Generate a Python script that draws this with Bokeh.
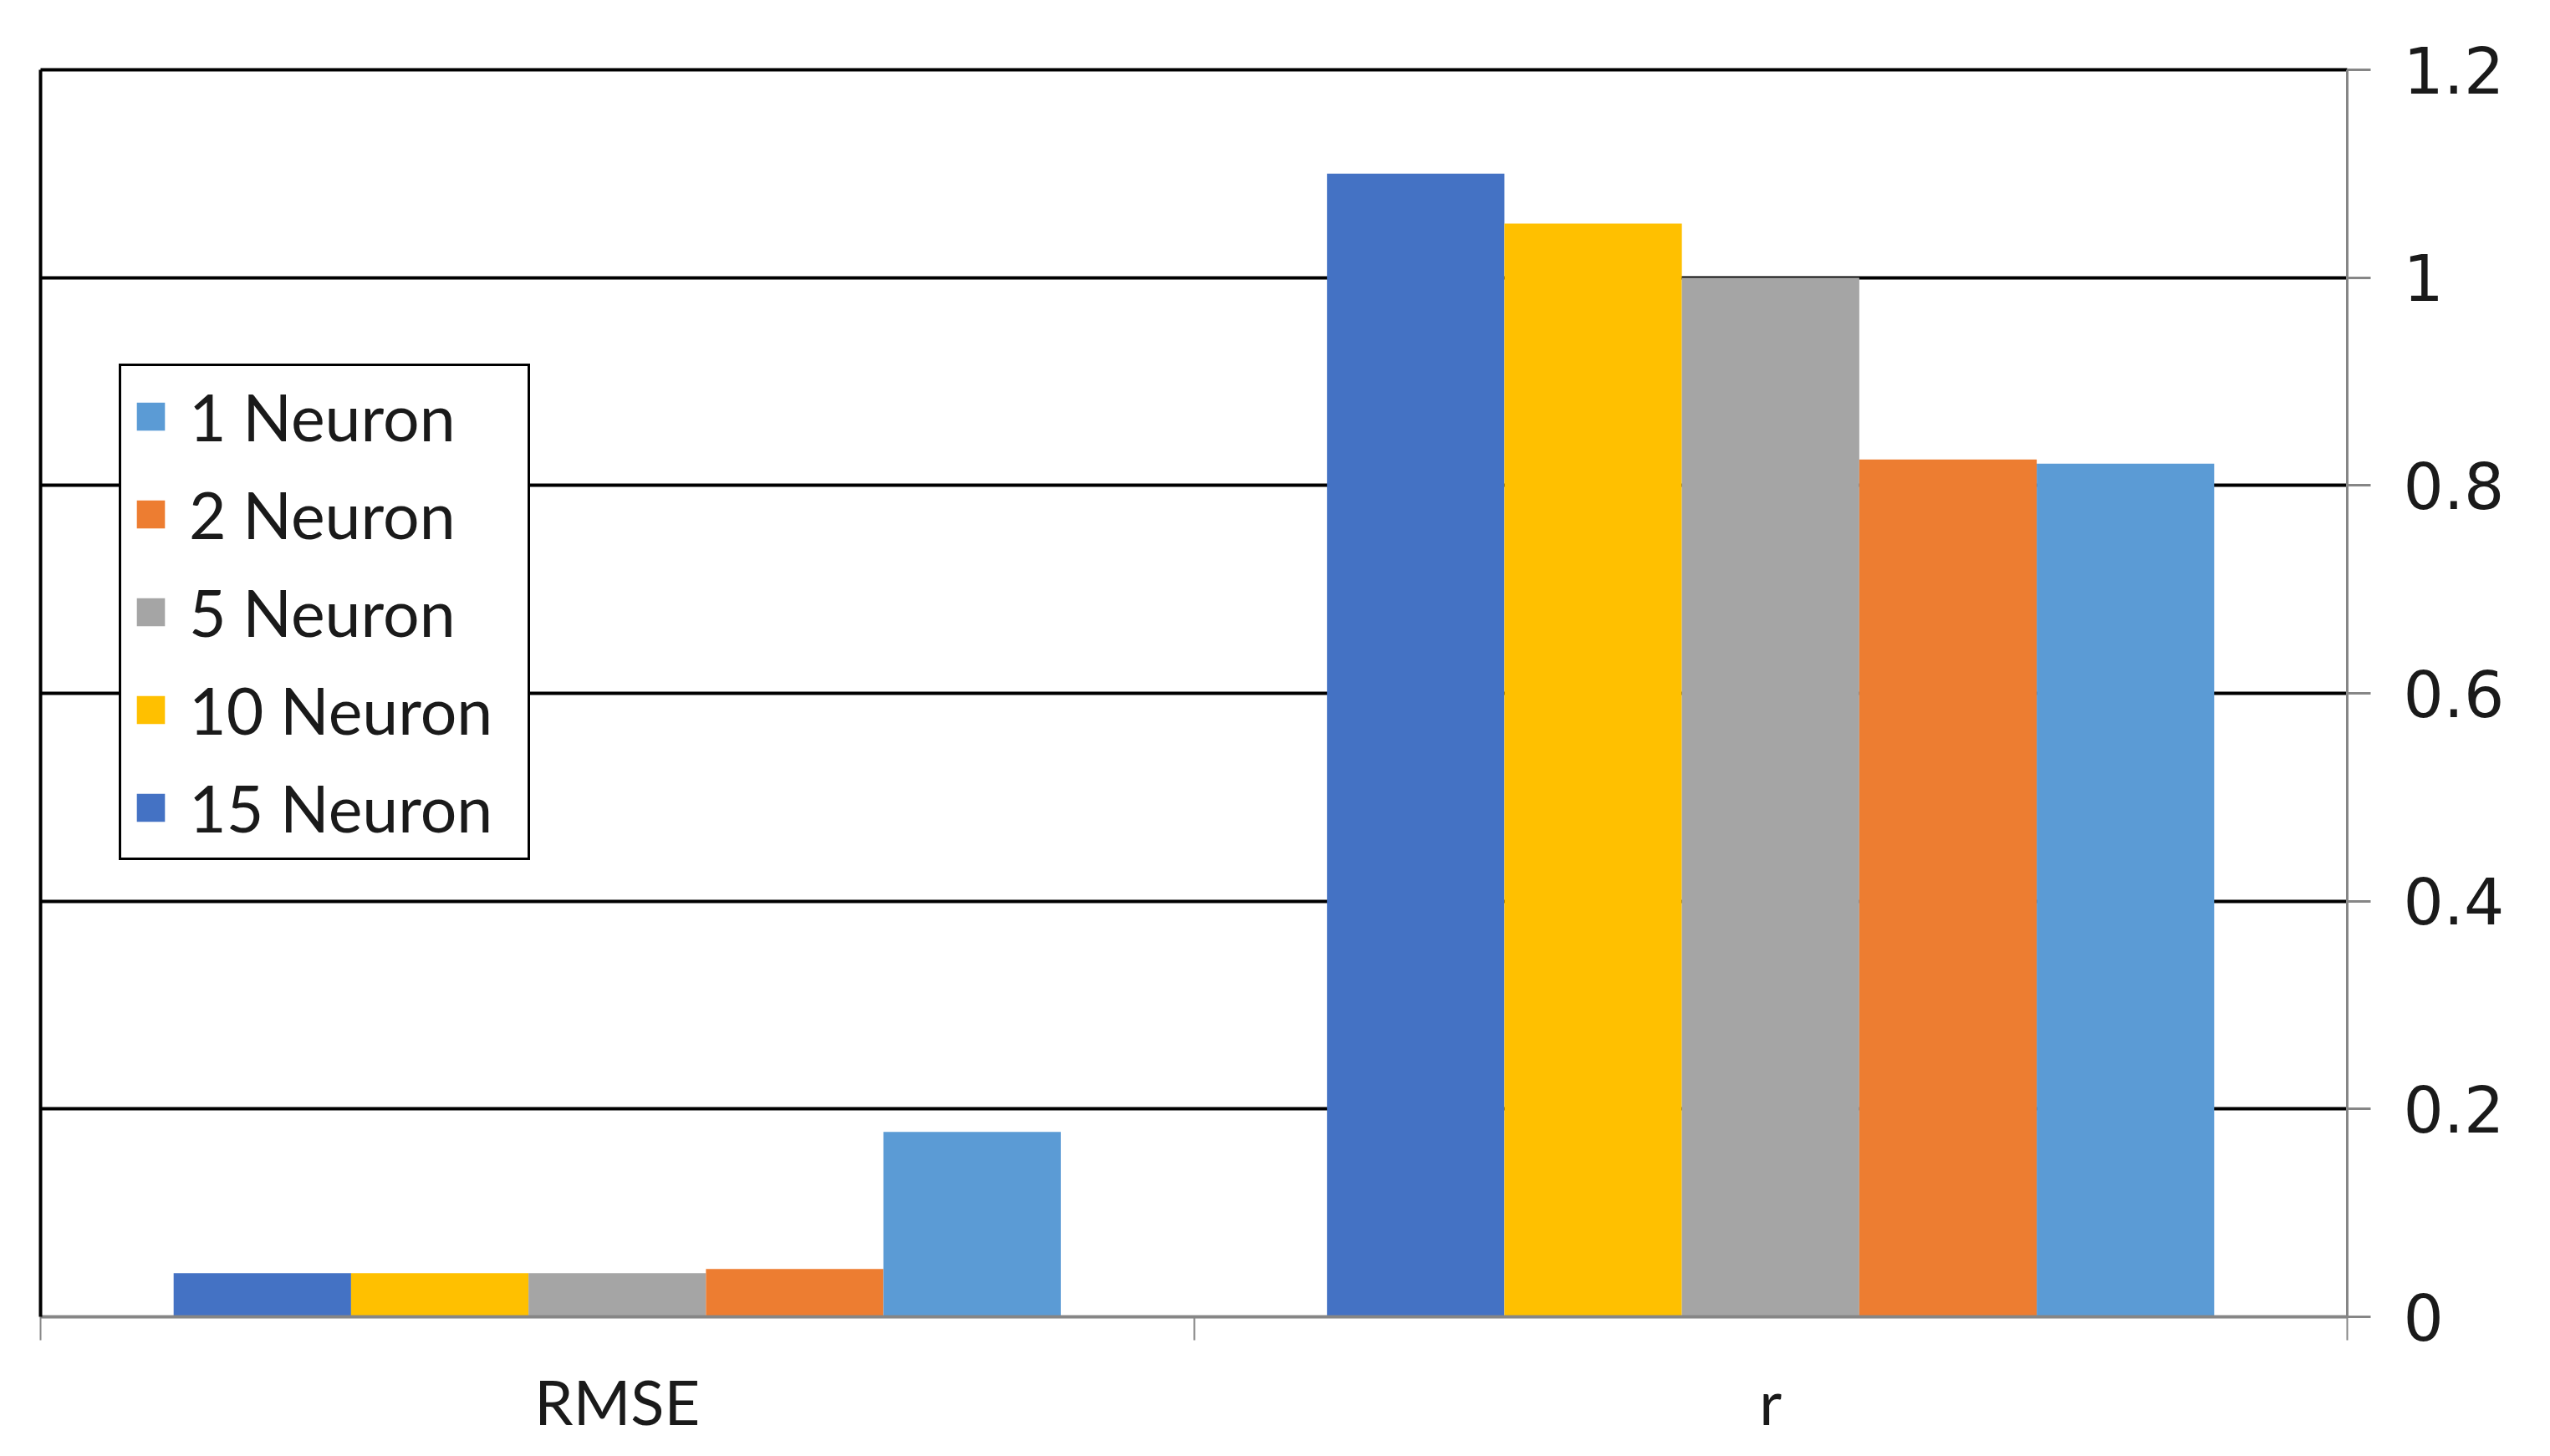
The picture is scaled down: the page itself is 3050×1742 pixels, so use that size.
from bokeh.plotting import figure
from bokeh.models import (Range1d, LinearAxis, FixedTicker,
                          NumeralTickFormatter, Legend, LegendItem, ColumnDataSource)
from bokeh.transform import dodge
from bokeh.embed import file_html
from bokeh.resources import INLINE

# ---- data ----
categories = ["RMSE", "r"]
series_names = ["1 Neuron", "2 Neuron", "5 Neuron", "10 Neuron", "15 Neuron"]
neuron_1 = [0.178, 0.821]
neuron_2 = [0.046, 0.825]
neuron_5 = [0.042, 1.000]
neuron_10 = [0.042, 1.052]
neuron_15 = [0.042, 1.100]
y_ticks = [0, 0.2, 0.4, 0.6, 0.8, 1.0, 1.2]

series_values = {
    "1 Neuron": neuron_1,
    "2 Neuron": neuron_2,
    "5 Neuron": neuron_5,
    "10 Neuron": neuron_10,
    "15 Neuron": neuron_15,
}
colors = {
    "1 Neuron": "#5B9BD5",
    "2 Neuron": "#ED7D31",
    "5 Neuron": "#A5A5A5",
    "10 Neuron": "#FFC000",
    "15 Neuron": "#4472C4",
}
# left-to-right order inside each group
draw_order = ["15 Neuron", "10 Neuron", "5 Neuron", "2 Neuron", "1 Neuron"]

FONT = "Lato"

n_cat = len(categories)
centers = [i + 0.5 for i in range(n_cat)]
data = {"xc": centers}
for i, name in enumerate(series_names):
    data["s%d" % i] = series_values[name]
source = ColumnDataSource(data)

p = figure(x_range=Range1d(0, n_cat), y_range=Range1d(0, 1.2),
           width=3034, height=1726, output_backend="svg", toolbar_location=None,
           x_axis_location=None, y_axis_location="right",
           min_border_left=48, min_border_right=227, min_border_top=83, min_border_bottom=151)
p.outline_line_color = None
p.background_fill_color = "white"
p.border_fill_color = "white"

group_w = 5 / 6.5
bar_w = group_w / 5
renderers = {}
for k, name in enumerate(draw_order):
    col = "s%d" % series_names.index(name)
    off = (k - 2) * bar_w
    r = p.vbar(x=dodge("xc", off), top=col, width=bar_w, bottom=0,
               source=source, fill_color=colors[name], line_color=None)
    renderers[name] = r

# right axis
ya = p.yaxis[0]
ya.ticker = FixedTicker(ticks=y_ticks)
ya.formatter = NumeralTickFormatter(format="0.[0]")
ya.axis_line_color = "#868686"
ya.axis_line_width = 3
ya.major_tick_line_color = "#868686"
ya.major_tick_line_width = 3
ya.major_tick_in = 0
ya.major_tick_out = 28
ya.minor_tick_line_color = None
ya.major_label_text_font = "DejaVu Sans"
ya.major_label_text_font_size = "76px"
ya.major_label_text_color = "#1a1a1a"
ya.major_label_standoff = 39

# grid
p.xgrid.visible = False
p.ygrid.ticker = FixedTicker(ticks=y_ticks[1:-1])
p.ygrid.grid_line_color = "black"
p.ygrid.grid_line_width = 4

# left and top border lines (plot-area edges in the reference)
left_ax = LinearAxis(ticker=FixedTicker(ticks=[]), axis_line_color="black", axis_line_width=4,
                     major_tick_line_color=None, minor_tick_line_color=None,
                     major_label_text_font_size="1px", major_label_text_color=None)
p.add_layout(left_ax, "left")
top_ax = LinearAxis(ticker=FixedTicker(ticks=[]), axis_line_color="black", axis_line_width=4,
                    major_tick_line_color=None, minor_tick_line_color=None,
                    major_label_text_font_size="1px", major_label_text_color=None)
p.add_layout(top_ax, "above")

# bottom: boundary ticks + category labels
tick_ax = LinearAxis(ticker=FixedTicker(ticks=list(range(n_cat + 1))),
                     axis_line_color="#868686", axis_line_width=4,
                     major_tick_line_color="#868686", major_tick_line_width=2,
                     major_tick_in=0, major_tick_out=28, minor_tick_line_color=None,
                     major_label_text_font_size="1px", major_label_text_color=None,
                     major_label_standoff=0)
p.add_layout(tick_ax, "below")
cat_ax = LinearAxis(ticker=FixedTicker(ticks=centers),
                    major_label_overrides={c: lab for c, lab in zip(centers, categories)},
                    axis_line_color=None, major_tick_line_color=None, minor_tick_line_color=None,
                    major_label_text_font=FONT, major_label_text_font_size="74px",
                    major_label_text_color="#1a1a1a", major_label_standoff=22)
p.add_layout(cat_ax, "below")

# legend
items = [LegendItem(label=name, renderers=[renderers[name]]) for name in series_names]
legend = Legend(items=items, location=(94, 546), border_line_color="black", border_line_width=3,
                border_line_alpha=1.0,
                label_text_font=FONT, label_text_font_size="77px", label_text_color="#1a1a1a",
                glyph_width=42, glyph_height=42, label_standoff=25, padding=14, spacing=25,
                label_width=391, margin=0, background_fill_color="white", background_fill_alpha=1)
p.add_layout(legend)

open("out.html", "w").write(file_html(p, INLINE))
